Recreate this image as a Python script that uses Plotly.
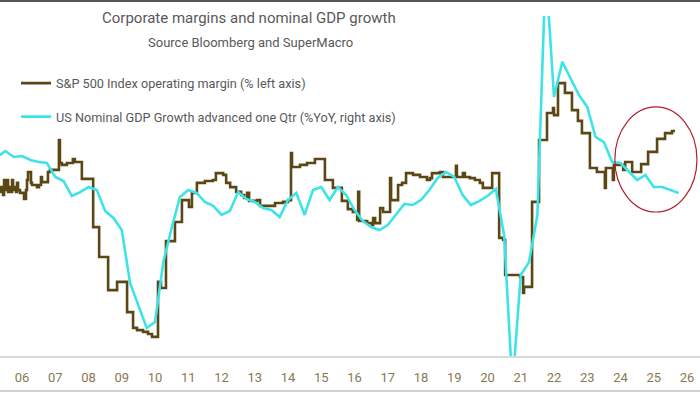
import plotly.graph_objects as go

# S&P 500 operating margin (% , left axis) - step series (decimal year, value)
margin_dates = [
    2005.34, 2005.37, 2005.43, 2005.46, 2005.49, 2005.55, 2005.58, 2005.61, 2005.64, 2005.70,
    2005.73, 2005.76, 2005.82, 2005.85, 2005.88, 2005.94, 2006.06, 2006.12, 2006.15, 2006.18,
    2006.27, 2006.30, 2006.45, 2006.51, 2006.57, 2006.60, 2006.78, 2006.84, 2007.11, 2007.14,
    2007.20, 2007.35, 2007.53, 2007.59, 2007.80, 2008.14, 2008.32, 2008.59, 2008.86, 2009.16,
    2009.34, 2009.46, 2009.64, 2009.79, 2009.91, 2010.09, 2010.18, 2010.33, 2010.60, 2010.81,
    2011.02, 2011.11, 2011.26, 2011.50, 2011.74, 2011.83, 2012.05, 2012.14, 2012.26, 2012.44,
    2012.59, 2012.68, 2012.77, 2012.83, 2013.07, 2013.16, 2013.61, 2013.85, 2014.00, 2014.09,
    2014.12, 2014.36, 2014.57, 2014.81, 2015.11, 2015.35, 2015.62, 2015.80, 2015.95, 2016.08,
    2016.11, 2016.14, 2016.38, 2016.53, 2016.56, 2016.62, 2016.77, 2016.86, 2017.07, 2017.10,
    2017.31, 2017.43, 2017.55, 2017.76, 2017.97, 2018.18, 2018.27, 2018.33, 2018.57, 2018.66,
    2019.05, 2019.08, 2019.26, 2019.32, 2019.47, 2019.62, 2019.77, 2019.86, 2020.14, 2020.35,
    2020.47, 2020.53, 2020.98, 2021.07, 2021.10, 2021.34, 2021.55, 2021.79, 2021.97, 2022.00,
    2022.12, 2022.33, 2022.54, 2022.72, 2022.84, 2023.08, 2023.29, 2023.53, 2023.56, 2023.77,
    2023.80, 2024.08, 2024.14, 2024.35, 2024.62, 2024.83, 2025.10, 2025.34, 2025.55, 2025.64,
]
margin_values = [
    9.56, 9.69, 9.47, 9.89, 9.61, 9.89, 9.56, 9.69, 9.56, 9.89,
    9.61, 9.69, 9.56, 9.81, 9.61, 9.53, 9.36, 9.61, 9.89, 10.11,
    9.81, 9.75, 9.69, 9.75, 9.97, 9.83, 10.11, 10.17, 11.00, 10.36,
    10.31, 10.36, 10.47, 10.39, 9.92, 8.58, 7.75, 6.83, 7.06, 6.22,
    5.78, 5.72, 5.67, 5.61, 5.53, 7.06, 6.89, 8.19, 8.72, 9.33,
    9.14, 9.53, 9.81, 9.86, 9.89, 10.08, 10.03, 9.81, 9.69, 9.56,
    9.47, 9.39, 9.53, 9.31, 9.33, 9.17, 9.25, 9.28, 9.33, 10.64,
    10.25, 10.31, 10.36, 10.47, 9.89, 9.67, 9.31, 9.08, 9.00, 8.78,
    9.56, 8.75, 8.69, 8.64, 8.83, 8.69, 9.11, 9.00, 9.94, 9.33,
    9.75, 9.81, 10.08, 10.03, 9.97, 9.89, 9.94, 10.08, 10.11, 9.97,
    10.28, 9.97, 10.08, 9.97, 9.94, 9.89, 9.81, 9.67, 10.08, 8.28,
    8.22, 7.25, 7.19, 6.75, 6.92, 9.28, 11.00, 11.75, 11.89, 11.69,
    12.58, 12.31, 11.83, 11.53, 11.19, 10.22, 10.11, 9.67, 10.22, 9.89,
    10.31, 10.17, 10.39, 10.11, 10.33, 10.67, 11.03, 11.19, 11.25, 11.25,
]

# US nominal GDP growth advanced one quarter (% YoY, right axis), quarterly
gdp_dates = [
    2005.25, 2005.50, 2005.75,
    2006.00, 2006.25, 2006.50, 2006.75, 2007.00, 2007.25, 2007.50, 2007.75,
    2008.00, 2008.25, 2008.50, 2008.75, 2009.00, 2009.25, 2009.50, 2009.75,
    2010.00, 2010.25, 2010.50, 2010.75, 2011.00, 2011.25, 2011.50, 2011.75,
    2012.00, 2012.25, 2012.50, 2012.75, 2013.00, 2013.25, 2013.50, 2013.75,
    2014.00, 2014.25, 2014.50, 2014.75, 2015.00, 2015.25, 2015.50, 2015.75,
    2016.00, 2016.25, 2016.50, 2016.75, 2017.00, 2017.25, 2017.50, 2017.75,
    2018.00, 2018.25, 2018.50, 2018.75, 2019.00, 2019.25, 2019.50, 2019.75,
    2020.00, 2020.25, 2020.50, 2020.75, 2021.00, 2021.25, 2021.50, 2021.75,
    2022.00, 2022.25, 2022.50, 2022.75, 2023.00, 2023.25, 2023.50, 2023.75,
    2024.00, 2024.25, 2024.50, 2024.75, 2025.00, 2025.25, 2025.50, 2025.75,
]
gdp_values = [
    6.28, 6.61, 6.28,
    6.33, 6.11, 6.00, 5.94, 5.17, 4.94, 4.11, 4.33,
    4.61, 4.44, 3.28, 2.89, 2.22, -0.72, -1.94, -3.22,
    -2.89, 0.44, 2.33, 4.06, 4.44, 4.28, 3.78, 3.56,
    3.06, 3.28, 4.33, 3.94, 3.78, 3.44, 3.33, 2.94,
    3.89, 4.28, 3.06, 4.44, 4.61, 3.89, 4.61, 4.17,
    3.33, 2.72, 2.39, 2.22, 2.50, 3.11, 3.67, 3.61,
    3.89, 4.44, 5.11, 5.44, 5.17, 4.17, 3.61, 3.83,
    4.11, 4.50, 1.94, -6.50, -0.28, 0.44, 3.06, 16.80,
    9.61, 11.56, 10.67, 9.72, 9.06, 7.39, 7.11, 6.00,
    5.94, 5.44, 5.00, 5.28, 4.61, 4.61, 4.44, 4.28,
]

tick_years = list(range(2006, 2027))
tick_labels = ["06", "07", "08", "09", "10", "11", "12", "13", "14", "15", "16",
               "17", "18", "19", "20", "21", "22", "23", "24", "25", "26"]

title_text = "Corporate margins and nominal GDP growth"
subtitle_text = "Source Bloomberg and SuperMacro"
margin_name = "S&P 500 Index operating margin (% left axis)"
gdp_name = "US Nominal GDP Growth advanced one Qtr (%YoY, right axis)"

BROWN = "#5a4714"
CYAN = "#3ee3ea"
TEXT = "#595959"
FONT = "Roboto"

fig = go.Figure()
fig.add_trace(go.Scatter(
    x=margin_dates, y=margin_values, name=margin_name, mode="lines",
    line=dict(color=BROWN, width=2.6, shape="hv"), legendgroup="a", yaxis="y",
))
fig.add_trace(go.Scatter(
    x=gdp_dates, y=gdp_values, name=gdp_name, mode="lines",
    line=dict(color=CYAN, width=2.6), legendgroup="b", yaxis="y2",
))

fig.update_layout(
    width=700, height=394,
    margin=dict(l=0, r=0, t=16, b=38),
    paper_bgcolor="white", plot_bgcolor="white",
    font=dict(family=FONT, color=TEXT),
    showlegend=True,
    legend=dict(x=16 / 700, xanchor="left", y=0.846, yanchor="top",
                bgcolor="rgba(0,0,0,0)", font=dict(size=12.7, color=TEXT, family=FONT),
                tracegroupgap=14, itemwidth=30),
    xaxis=dict(range=[2005.338, 2026.391], tickvals=tick_years, ticktext=tick_labels,
               showgrid=False, zeroline=False, showline=True, linecolor="#d9d9d9",
               linewidth=2, ticks="outside", ticklen=8, tickcolor="rgba(0,0,0,0)",
               tickfont=dict(size=13, color="#8a7852", family=FONT)),
    yaxis=dict(range=[5.0, 14.444], visible=False, fixedrange=True),
    yaxis2=dict(range=[-4.778, 14.111], visible=False, overlaying="y", side="right"),
    annotations=[
        dict(text=title_text, x=249 / 700, y=0.994, xref="paper", yref="paper",
             xanchor="center", yanchor="middle", showarrow=False,
             font=dict(size=15, color=TEXT, family=FONT)),
        dict(text=subtitle_text, x=250 / 700, y=0.9235, xref="paper", yref="paper",
             xanchor="center", yanchor="middle", showarrow=False,
             font=dict(size=13, color=TEXT, family=FONT)),
    ],
    shapes=[
        dict(type="circle", xref="x", yref="y", x0=2023.83, x1=2026.30, y0=9.0, y1=11.92,
             line=dict(color="#b0202c", width=1.2)),
        dict(type="line", xref="paper", yref="paper", x0=0, x1=1, y0=1.0440, y1=1.0440,
             line=dict(color="#555555", width=2)),
        dict(type="line", xref="paper", yref="paper", x0=0, x1=1, y0=-0.1029, y1=-0.1029,
             line=dict(color="#d0d0d0", width=2)),
    ],
)

fig.write_html("out.html", config={"displayModeBar": False},
               post_script="document.body.style.margin='0';")
